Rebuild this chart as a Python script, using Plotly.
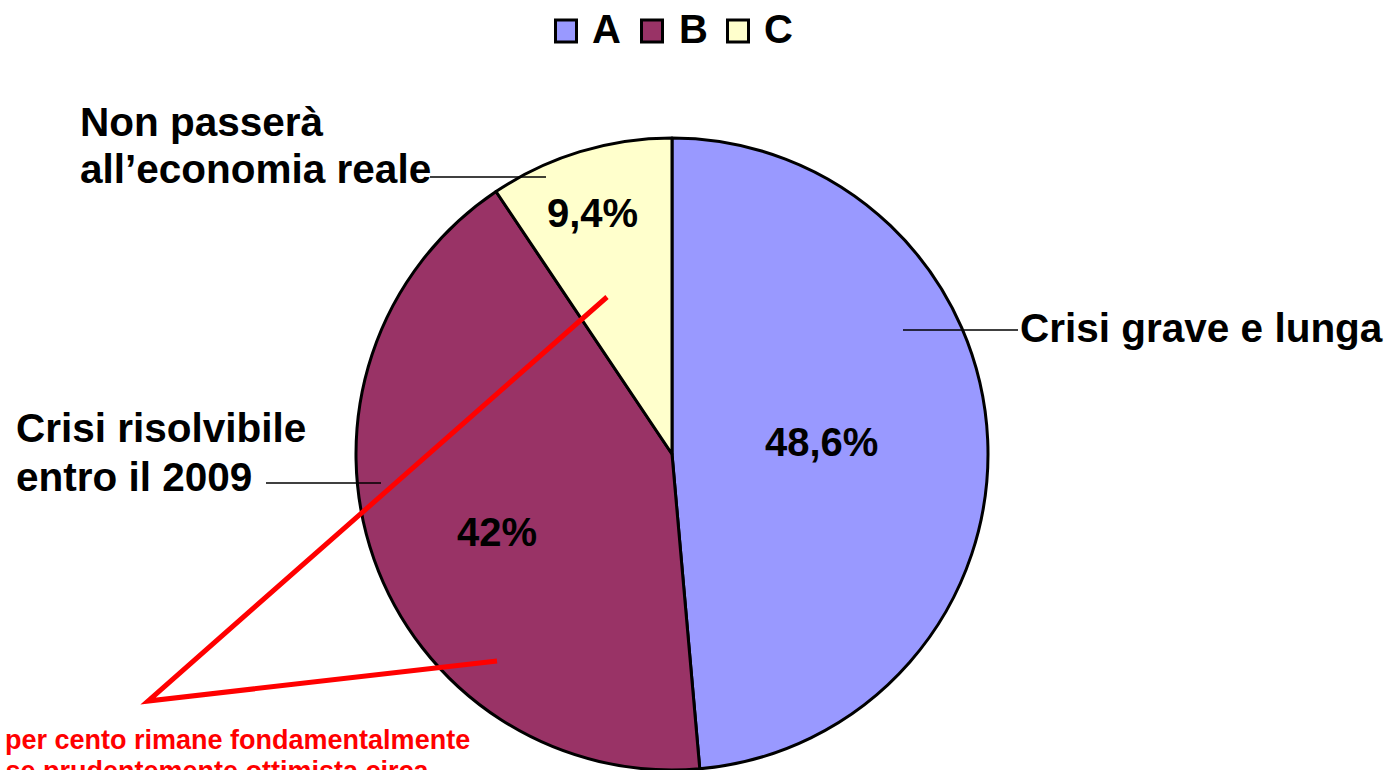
import plotly.graph_objects as go

categories = ["A", "B", "C"]
values = [48.6, 42.0, 9.4]
pct_labels = ["48,6%", "42%", "9,4%"]
slice_names = [["Crisi grave e lunga"],
               ["Crisi risolvibile", "entro il 2009"],
               ["Non passerà", "all’economia reale"]]
colors = ["#9999FF", "#993366", "#FFFFCC"]
note_lines = ["Il 42 per cento rimane fondamentalmente",
              "fiducioso se prudentemente ottimista circa"]

W, H = 1389, 770
FONT = "Arial, Liberation Sans, sans-serif"


def px(x):
    return x / W


def py(y):
    return 1 - y / H


cx, cy, R = 672, 454, 316

fig = go.Figure()
fig.add_trace(go.Pie(
    labels=categories,
    values=values,
    sort=False,
    direction="clockwise",
    rotation=0,
    marker=dict(colors=colors, line=dict(color="black", width=3)),
    textinfo="none",
    hoverinfo="label+percent",
    showlegend=False,
    domain=dict(x=[px(cx - R), px(cx + R)], y=[max(0, py(cy + R)), py(cy - R)]),
))

# percentage labels inside slices
pct_pos = [(821, 442), (497, 532), (592, 213)]
for t, (x, y) in zip(pct_labels, pct_pos):
    fig.add_annotation(x=px(x), y=py(y), xref="paper", yref="paper", text="<b>%s</b>" % t,
                       showarrow=False, font=dict(family=FONT, size=40, color="black"),
                       xanchor="center", yanchor="middle")

# slice name labels (one annotation per line)
name_pos = [(1018, [328]), (14, [428, 477]), (78, [122, 169])]
for lines, (x, ys) in zip(slice_names, name_pos):
    for line, y in zip(lines, ys):
        fig.add_annotation(x=px(x), y=py(y), xref="paper", yref="paper", text="<b>%s</b>" % line,
                           showarrow=False, font=dict(family=FONT, size=40.5, color="black"),
                           xanchor="left", yanchor="middle")

# leader lines
for x0, x1, yy in [(903, 1018, 330), (266, 381, 483), (430, 546, 177)]:
    fig.add_shape(type="line", xref="paper", yref="paper", x0=px(x0), x1=px(x1), y0=py(yy), y1=py(yy),
                  line=dict(color="black", width=1.3))

# custom legend (large squares with thick black border)
leg_sq_x = [554, 640, 726]
leg_txt_x = [592, 679, 764]
for cat, col, sx, tx in zip(categories, colors, leg_sq_x, leg_txt_x):
    fig.add_shape(type="rect", xref="paper", yref="paper", x0=px(sx + 1.5), x1=px(sx + 22.5),
                  y0=py(42), y1=py(20), fillcolor=col, line=dict(color="black", width=3))
    fig.add_annotation(x=px(tx - 2), y=py(29), xref="paper", yref="paper", text="<b>%s</b>" % cat,
                       showarrow=False, font=dict(family=FONT, size=40, color="black"),
                       xanchor="left", yanchor="middle")

# red callout lines
fig.add_shape(type="path", xref="paper", yref="paper",
              path="M %f,%f L %f,%f L %f,%f" % (px(607), py(297), px(148), py(701), px(497), py(661)),
              line=dict(color="#FF0000", width=5))

# red note text (cut off at the left/bottom edge as in the original)
fig.add_annotation(x=px(472), y=py(740), xref="paper", yref="paper",
                   text="<b>%s</b>" % note_lines[0],
                   showarrow=False, font=dict(family=FONT, size=27, color="#FF0000"),
                   xanchor="right", yanchor="middle")
fig.add_annotation(x=px(432), y=py(771), xref="paper", yref="paper",
                   text="<b>%s</b>" % note_lines[1],
                   showarrow=False, font=dict(family=FONT, size=27, color="#FF0000"),
                   xanchor="right", yanchor="middle")

fig.update_layout(
    width=W, height=H,
    margin=dict(l=0, r=0, t=0, b=0),
    paper_bgcolor="white", plot_bgcolor="white",
    showlegend=False,
    font=dict(family=FONT),
)

fig.write_html("out.html", config={"displayModeBar": False},
               post_script="document.body.style.margin='0';document.body.style.overflow='hidden';")
